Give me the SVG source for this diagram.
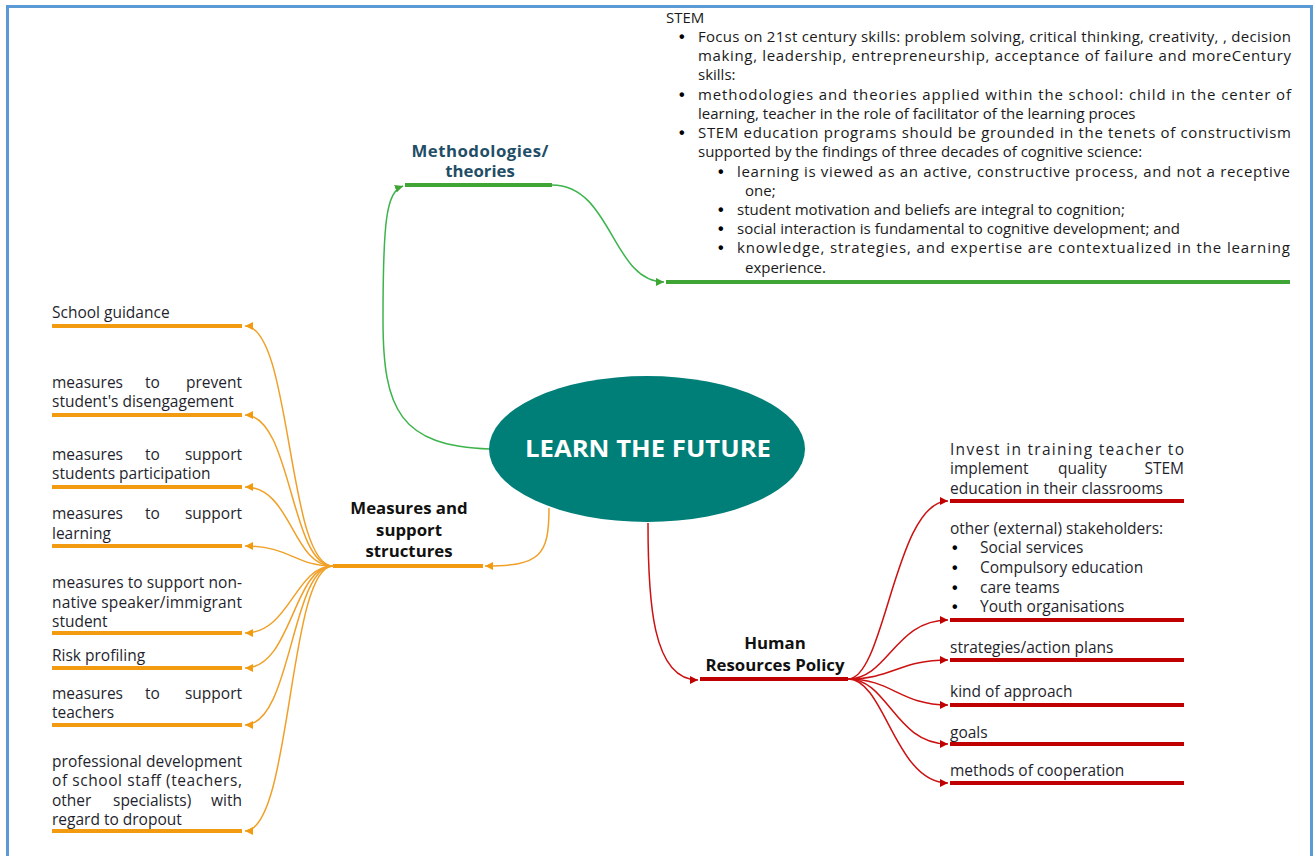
<svg xmlns="http://www.w3.org/2000/svg" width="1314" height="856" viewBox="0 0 1314 856">
<defs>
<style>
.t{font-family:"Open Sans","Noto Sans","Liberation Sans",sans-serif;font-size:15px;fill:#1a1a1a}
.l{font-family:"Open Sans","Noto Sans","Liberation Sans",sans-serif;font-size:15.5px;fill:#1f1f2e}
.b{font-family:"Liberation Sans",sans-serif;font-size:16px;font-weight:bold;fill:#000}
.h{font-family:"Open Sans","Noto Sans","Liberation Sans",sans-serif;font-size:16.8px;font-weight:bold;fill:#111;text-anchor:middle}
.hm{fill:#1f4e66}
.c{fill:none;stroke-width:1.5}
.g{stroke:#3cb44b}
.o{stroke:#f0a028}
.r{stroke:#cc1111}
.ug{stroke:#3fa535;stroke-width:4}
.uo{stroke:#f29b11;stroke-width:4}
.ur{stroke:#c00000;stroke-width:4}
</style>
<marker id="mg" markerWidth="10" markerHeight="10" refX="8" refY="4" orient="auto" markerUnits="userSpaceOnUse"><path d="M0,0 L8,4 L0,8 z" fill="#3fa535"/></marker>
<marker id="mo" markerWidth="10" markerHeight="10" refX="8" refY="4" orient="auto" markerUnits="userSpaceOnUse"><path d="M0,0 L8,4 L0,8 z" fill="#f29b11"/></marker>
<marker id="mr" markerWidth="10" markerHeight="10" refX="8" refY="4" orient="auto" markerUnits="userSpaceOnUse"><path d="M0,0 L8,4 L0,8 z" fill="#c00000"/></marker>
</defs>
<rect width="1314" height="856" fill="#fff"/>
<rect x="7.5" y="6.5" width="1304" height="880" fill="none" stroke="#5b9bd5" stroke-width="3"/>

<g id="connectors">
<path class="c g" d="M490 449 C400 446 383 410 383 320 C383 222 386 192 403 186" marker-end="url(#mg)"/>
<path class="c g" d="M552 185 C612 185 612 282 664 282" marker-end="url(#mg)"/>
<path class="c o" d="M549 508 C549 556 540 566 485 566" marker-end="url(#mo)"/>
<path class="c r" d="M648 523 C648 600 652 680 698 680" marker-end="url(#mr)"/>
<path class="c o" d="M333 566 C287 566 292 326 245 326" marker-end="url(#mo)"/>
<path class="c o" d="M333 566 C290 566 292 415 245 415" marker-end="url(#mo)"/>
<path class="c o" d="M333 566 C292 566 292 487 245 487" marker-end="url(#mo)"/>
<path class="c o" d="M333 566 C295 566 290 546 245 546" marker-end="url(#mo)"/>
<path class="c o" d="M333 566 C295 566 290 633 245 633" marker-end="url(#mo)"/>
<path class="c o" d="M333 566 C293 566 292 668 245 668" marker-end="url(#mo)"/>
<path class="c o" d="M333 566 C291 566 292 725 245 725" marker-end="url(#mo)"/>
<path class="c o" d="M333 566 C288 566 292 831 245 831" marker-end="url(#mo)"/>
<path class="c r" d="M848 679 C885 679 895 501 948 501" marker-end="url(#mr)"/>
<path class="c r" d="M848 679 C888 679 895 620 948 620" marker-end="url(#mr)"/>
<path class="c r" d="M848 679 C892 679 900 660 948 660" marker-end="url(#mr)"/>
<path class="c r" d="M848 679 C892 679 900 705 948 705" marker-end="url(#mr)"/>
<path class="c r" d="M848 679 C888 679 895 744 948 744" marker-end="url(#mr)"/>
<path class="c r" d="M848 679 C885 679 895 783 948 783" marker-end="url(#mr)"/>
</g>

<g id="center">
<ellipse cx="647" cy="449" rx="158" ry="73" fill="#007e78"/>
<text x="648" y="457" text-anchor="middle" font-family="'Open Sans','Noto Sans','Liberation Sans',sans-serif" font-size="23" font-weight="bold" fill="#fff" textLength="246" lengthAdjust="spacingAndGlyphs">LEARN THE FUTURE</text>
</g>

<g id="methodologies">
<text class="h hm" x="480" y="157" textLength="137" lengthAdjust="spacing">Methodologies/</text>
<text class="h hm" x="480" y="177">theories</text>
<line class="ug" x1="405" y1="185" x2="552" y2="185"/>
</g>

<g id="stem">
<text class="t" x="666" y="23">STEM</text>
<text class="b" x="679" y="42">•</text>
<text class="t" x="698" y="42" textLength="593" lengthAdjust="spacing">Focus on 21st century skills: problem solving, critical thinking, creativity, , decision</text>
<text class="t" x="698" y="61" textLength="593" lengthAdjust="spacing">making, leadership, entrepreneurship, acceptance of failure and moreCentury</text>
<text class="t" x="698" y="80">skills:</text>
<text class="b" x="679" y="100">•</text>
<text class="t" x="698" y="100" textLength="593" lengthAdjust="spacing">methodologies and theories applied within the school: child in the center of</text>
<text class="t" x="698" y="119">learning, teacher in the role of facilitator of the learning proces</text>
<text class="b" x="679" y="138">•</text>
<text class="t" x="698" y="138" textLength="593" lengthAdjust="spacing">STEM education programs should be grounded in the tenets of constructivism</text>
<text class="t" x="698" y="157">supported by the findings of three decades of cognitive science:</text>
<text class="b" x="718" y="177">•</text>
<text class="t" x="737" y="177" textLength="553" lengthAdjust="spacing">learning is viewed as an active, constructive process, and not a receptive</text>
<text class="t" x="745" y="196">one;</text>
<text class="b" x="718" y="215">•</text>
<text class="t" x="737" y="215">student motivation and beliefs are integral to cognition;</text>
<text class="b" x="718" y="234">•</text>
<text class="t" x="737" y="234">social interaction is fundamental to cognitive development; and</text>
<text class="b" x="718" y="253">•</text>
<text class="t" x="737" y="253" textLength="553" lengthAdjust="spacing">knowledge, strategies, and expertise are contextualized in the learning</text>
<text class="t" x="745" y="273">experience.</text>
<line class="ug" x1="666" y1="282" x2="1290" y2="282"/>
</g>

<g id="measures">
<text class="h" x="409" y="514">Measures and</text>
<text class="h" x="409" y="536">support</text>
<text class="h" x="409" y="557">structures</text>
<line class="uo" x1="333" y1="566" x2="483" y2="566"/>
</g>

<g id="m1"><text class="l" x="52" y="318">School guidance</text><line class="uo" x1="52" y1="326" x2="242" y2="326"/></g>
<g id="m2"><text class="l" x="52" y="388">measures</text><text class="l" x="145" y="388">to</text><text class="l" x="242" y="388" text-anchor="end">prevent</text>
<text class="l" x="52" y="407">student's disengagement</text><line class="uo" x1="52" y1="415" x2="242" y2="415"/></g>
<g id="m3"><text class="l" x="52" y="460">measures</text><text class="l" x="145" y="460">to</text><text class="l" x="242" y="460" text-anchor="end">support</text>
<text class="l" x="52" y="479">students participation</text><line class="uo" x1="52" y1="487" x2="242" y2="487"/></g>
<g id="m4"><text class="l" x="52" y="519">measures</text><text class="l" x="145" y="519">to</text><text class="l" x="242" y="519" text-anchor="end">support</text>
<text class="l" x="52" y="539">learning</text><line class="uo" x1="52" y1="546" x2="242" y2="546"/></g>
<g id="m5"><text class="l" x="52" y="588" textLength="190" lengthAdjust="spacing">measures to support non-</text>
<text class="l" x="52" y="608" textLength="190" lengthAdjust="spacing">native speaker/immigrant</text>
<text class="l" x="52" y="627">student</text><line class="uo" x1="52" y1="633" x2="242" y2="633"/></g>
<g id="m6"><text class="l" x="52" y="661">Risk profiling</text><line class="uo" x1="52" y1="668" x2="242" y2="668"/></g>
<g id="m7"><text class="l" x="52" y="699">measures</text><text class="l" x="145" y="699">to</text><text class="l" x="242" y="699" text-anchor="end">support</text>
<text class="l" x="52" y="718">teachers</text><line class="uo" x1="52" y1="725" x2="242" y2="725"/></g>
<g id="m8"><text class="l" x="52" y="767" textLength="190" lengthAdjust="spacing">professional development</text>
<text class="l" x="52" y="786" textLength="190" lengthAdjust="spacing">of school staff (teachers,</text>
<text class="l" x="52" y="806">other</text><text class="l" x="113" y="806">specialists)</text><text class="l" x="242" y="806" text-anchor="end">with</text>
<text class="l" x="52" y="825">regard to dropout</text><line class="uo" x1="52" y1="831" x2="242" y2="831"/></g>

<g id="hr">
<text class="h" x="775" y="649">Human</text>
<text class="h" x="775" y="671">Resources Policy</text>
<line class="ur" x1="700" y1="679" x2="848" y2="679"/>
</g>

<g id="r1"><text class="l" x="950" y="455" textLength="234" lengthAdjust="spacing">Invest in training teacher to</text>
<text class="l" x="950" y="474">implement</text><text class="l" x="1058" y="474">quality</text><text class="l" x="1184" y="474" text-anchor="end">STEM</text>
<text class="l" x="950" y="494">education in their classrooms</text><line class="ur" x1="950" y1="501" x2="1184" y2="501"/></g>
<g id="r2"><text class="l" x="950" y="534">other (external) stakeholders:</text>
<text class="b" x="952" y="553">•</text><text class="l" x="980" y="553">Social services</text>
<text class="b" x="952" y="573">•</text><text class="l" x="980" y="573">Compulsory education</text>
<text class="b" x="952" y="593">•</text><text class="l" x="980" y="593">care teams</text>
<text class="b" x="952" y="612">•</text><text class="l" x="980" y="612">Youth organisations</text>
<line class="ur" x1="950" y1="620" x2="1184" y2="620"/></g>
<g id="r3"><text class="l" x="950" y="653">strategies/action plans</text><line class="ur" x1="950" y1="660" x2="1184" y2="660"/></g>
<g id="r4"><text class="l" x="950" y="697">kind of approach</text><line class="ur" x1="950" y1="705" x2="1184" y2="705"/></g>
<g id="r5"><text class="l" x="950" y="738">goals</text><line class="ur" x1="950" y1="744" x2="1184" y2="744"/></g>
<g id="r6"><text class="l" x="950" y="776">methods of cooperation</text><line class="ur" x1="950" y1="783" x2="1184" y2="783"/></g>
</svg>
